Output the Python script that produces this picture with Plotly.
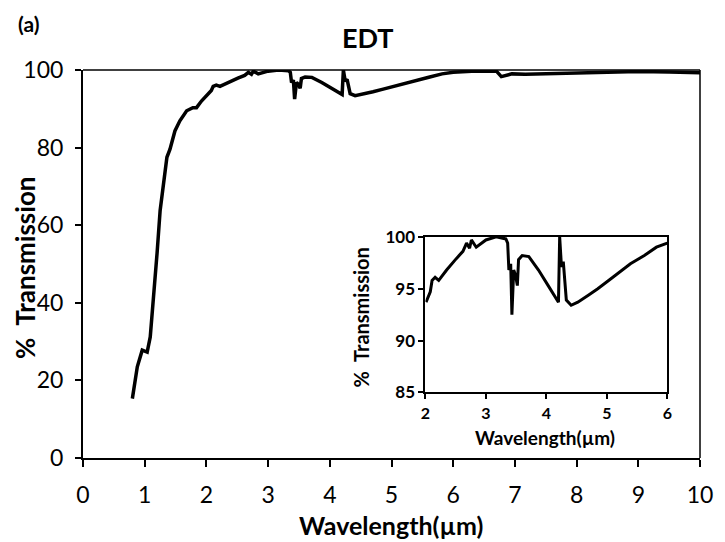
import plotly.graph_objects as go

# Wavelength (um) and % transmission
wavelength = [0.80, 0.83, 0.88, 0.96, 1.04, 1.09, 1.15, 1.20, 1.25, 1.31, 1.36, 1.41, 1.49, 1.57,
              1.68, 1.78, 1.84, 1.92, 2.01, 2.08, 2.11, 2.16, 2.22, 2.35, 2.51, 2.62, 2.68, 2.73,
              2.76, 2.84, 3.00, 3.17, 3.33, 3.36, 3.38, 3.41, 3.43, 3.46, 3.49, 3.52, 3.54, 3.60,
              3.71, 3.87, 4.03, 4.17, 4.20, 4.22, 4.25, 4.28, 4.33, 4.41, 4.52, 4.70, 4.85, 5.10,
              5.39, 5.62, 5.82, 6.00, 6.30, 6.70, 6.78, 6.85, 6.95, 7.17, 7.60, 8.00, 8.50, 9.00,
              9.50, 10.0]
transmission = [15.3, 18.8, 23.5, 27.8, 27.3, 31.2, 42.4, 52.7, 63.8, 72.3, 77.5, 79.6, 84.3, 86.9,
                89.5, 90.3, 90.3, 92.0, 93.7, 94.7, 95.8, 96.1, 95.8, 96.8, 97.9, 98.6, 99.4, 98.9,
                99.7, 99.0, 99.7, 100.0, 99.8, 99.4, 96.8, 97.4, 92.5, 96.8, 96.3, 95.3, 97.8, 98.2,
                98.1, 96.8, 95.3, 93.9, 93.7, 100.0, 97.1, 97.6, 93.9, 93.4, 93.7, 94.4, 95.0, 96.1,
                97.4, 98.2, 99.0, 99.4, 99.7, 99.7, 98.3, 98.6, 99.0, 98.9, 99.1, 99.2, 99.4, 99.6,
                99.5, 99.3]

main_x_ticks = [0, 1, 2, 3, 4, 5, 6, 7, 8, 9, 10]
main_y_ticks = [0, 20, 40, 60, 80, 100]
inset_x_ticks = [2, 3, 4, 5, 6]
inset_y_ticks = [85, 90, 95, 100]

inset_x = [w for w in wavelength if 2.0 <= w <= 6.0]
inset_y = [t for w, t in zip(wavelength, transmission) if 2.0 <= w <= 6.0]

FONT = "Lato"

fig = go.Figure()
fig.add_trace(go.Scatter(x=wavelength, y=transmission, mode="lines",
                         line=dict(color="black", width=3.5), xaxis="x", yaxis="y",
                         showlegend=False, hoverinfo="skip"))
fig.add_trace(go.Scatter(x=inset_x, y=inset_y, mode="lines",
                         line=dict(color="black", width=3), xaxis="x2", yaxis="y2",
                         showlegend=False, hoverinfo="skip"))

fig.update_layout(
    width=717, height=534,
    margin=dict(l=75, r=14, t=62, b=84),
    paper_bgcolor="white", plot_bgcolor="white",
    font=dict(family=FONT, color="black"),
    xaxis=dict(range=[0, 10], tickvals=main_x_ticks, showgrid=False, zeroline=False,
               showline=True, linecolor="black", linewidth=2, ticks="outside",
               ticklen=7, tickwidth=2, tickcolor="black", ticklabelstandoff=8,
               tickfont=dict(size=23, family=FONT), domain=[0, 1]),
    yaxis=dict(range=[0, 100], tickvals=main_y_ticks, showgrid=False, zeroline=False,
               showline=True, linecolor="black", linewidth=2, ticks="outside",
               ticklen=6, tickwidth=2, tickcolor="black", ticklabelstandoff=7,
               tickfont=dict(size=23, family=FONT), domain=[0, 1]),
    xaxis2=dict(range=[2, 6], tickvals=inset_x_ticks, showgrid=False, zeroline=False,
                showline=True, mirror=True, linecolor="black", linewidth=2,
                ticks="outside", ticklen=5, tickwidth=2, tickcolor="black",
                tickfont=dict(size=16, family=FONT, weight="bold"),
                domain=[0.555, 0.947], anchor="y2"),
    yaxis2=dict(range=[85, 100], tickvals=inset_y_ticks, showgrid=False, zeroline=False,
                showline=True, mirror=True, linecolor="black", linewidth=2,
                ticks="outside", ticklen=5, tickwidth=2, tickcolor="black",
                tickfont=dict(size=17, family=FONT, weight="bold"),
                domain=[0.169, 0.570], anchor="x2"),
    shapes=[
        dict(type="line", xref="paper", yref="paper", x0=0, x1=1, y0=1, y1=1,
             line=dict(color="black", width=1.5)),
        dict(type="line", xref="paper", yref="paper", x0=1, x1=1, y0=0, y1=1,
             line=dict(color="black", width=1.5)),
    ],
    annotations=[
        dict(text="<b>EDT</b>", xref="paper", yref="paper", x=0.462, y=1.084, xanchor="center",
             yanchor="middle", showarrow=False, font=dict(size=27, family=FONT)),
        dict(text="<b>(a)</b>", xref="paper", yref="paper", x=-0.0876, y=1.119, xanchor="center",
             yanchor="middle", showarrow=False, font=dict(size=21, family=FONT)),
        dict(text="<b>Wavelength(µm)</b>", xref="paper", yref="paper", x=0.499, y=-0.172,
             xanchor="center", yanchor="middle", showarrow=False, font=dict(size=25, family=FONT)),
        dict(text="<b>%  Transmission</b>", xref="paper", yref="paper", x=-0.094, y=0.49,
             xanchor="center", yanchor="middle", textangle=-90, showarrow=False,
             font=dict(size=26, family=FONT)),
        dict(text="<b>Wavelength(µm)</b>", xref="paper", yref="paper", x=0.748, y=0.052,
             xanchor="center", yanchor="middle", showarrow=False, font=dict(size=19, family=FONT)),
        dict(text="<b>%  Transmission</b>", xref="paper", yref="paper", x=0.451, y=0.363,
             xanchor="center", yanchor="middle", textangle=-90, showarrow=False,
             font=dict(size=20, family=FONT)),
    ],
)

fig.write_html("out.html")
